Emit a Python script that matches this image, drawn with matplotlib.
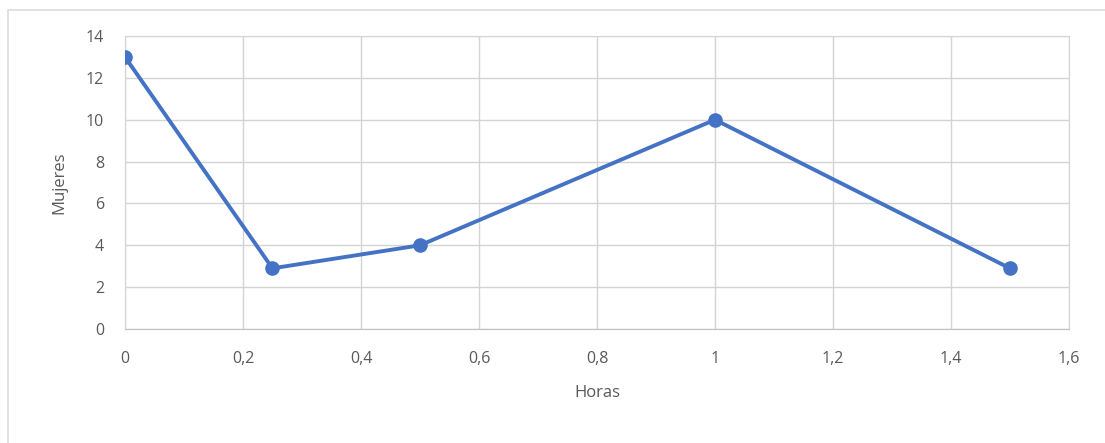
import matplotlib.pyplot as plt
from matplotlib.patches import Rectangle
from matplotlib.ticker import FuncFormatter

horas = [0, 0.25, 0.5, 1, 1.5]
mujeres = [13, 2.9, 4, 10, 2.9]
x_ticks = [0, 0.2, 0.4, 0.6, 0.8, 1.0, 1.2, 1.4, 1.6]
y_ticks = [0, 2, 4, 6, 8, 10, 12, 14]

plt.rcParams['font.family'] = ['Open Sans', 'DejaVu Sans']
gris = '#595959'
linea = '#d4d4d4'

fig = plt.figure(figsize=(11.05, 4.43), dpi=100)
ax = fig.add_axes([0.1131, 0.2573, 0.8543, 0.6614])

# marco exterior del gráfico
fig.patches.append(Rectangle((8 / 1105, -0.1), 1.2, 1 - 10 / 443 + 0.1,
                             transform=fig.transFigure, fill=False,
                             edgecolor='#dcdcdc', linewidth=1.2))

ax.plot(horas, mujeres, color='#4472C4', linewidth=2.8, marker='o',
        markersize=9.5, zorder=3)

ax.set_xlim(0, 1.6)
ax.set_ylim(0, 14)
ax.set_xticks(x_ticks)
ax.set_yticks(y_ticks)
ax.xaxis.set_major_formatter(FuncFormatter(lambda v, p: f'{v:g}'.replace('.', ',')))
ax.grid(True, color=linea, linewidth=1)
ax.set_axisbelow(True)
for s in ax.spines.values():
    s.set_color(linea)
ax.spines['bottom'].set_color('#bfbfbf')
ax.tick_params(length=0, colors=gris, labelsize=11.5)
ax.tick_params(axis='x', pad=16)
ax.tick_params(axis='y', pad=15)

ax.set_xlabel('Horas', color=gris, fontsize=12, labelpad=13)
ax.set_ylabel('Mujeres', color=gris, fontsize=12, labelpad=13)

fig.savefig('out.png', dpi=100)
